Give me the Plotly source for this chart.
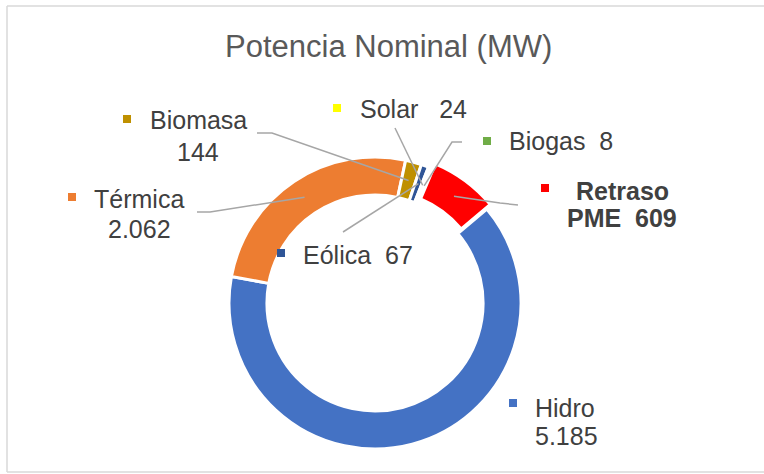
import math
import plotly.graph_objects as go

# ---- data ----
labels = ["Hidro", "Térmica", "Biomasa", "Eólica", "Solar", "Biogas", "Retraso PME"]
values = [5185, 2062, 144, 67, 24, 8, 609]
value_text = ["5.185", "2.062", "144", "67", "24", "8", "609"]
colors = ["#4472C4", "#ED7D31", "#BF9000", "#2F5597", "#FFFF00", "#70AD47", "#FF0000"]
pulls = [0, 0, 0, 0, 0, 0, 0.04]

W, H = 764, 474
ROT = 50          # start angle of first slice (deg, clockwise from 12 o'clock)
HOLE = 0.74
CX, CY, R = 375, 303, 146   # pixel layout of the ring

def px(x):
    return x / W

def py(y):
    return 1 - y / H

maxpull = max(pulls)
half = R * (1 + maxpull)

fig = go.Figure(go.Pie(
    labels=labels, values=values, sort=False, direction="clockwise",
    rotation=ROT, hole=HOLE, pull=pulls, textinfo="none",
    marker=dict(colors=colors, line=dict(color="white", width=3)),
    domain=dict(x=[px(CX - half), px(CX + half)], y=[py(CY + half), py(CY - half)]),
    showlegend=False, hoverinfo="label+value",
))

# slice mid angles from data
total = sum(values)
mid = {}
acc = 0
for lab, v in zip(labels, values):
    mid[lab] = ROT + (acc + v / 2) / total * 360
    acc += v

def slice_point(lab, rfrac):
    a = math.radians(mid[lab])
    p = pulls[labels.index(lab)] * R
    rr = R * rfrac + p
    return CX + rr * math.sin(a), CY - rr * math.cos(a)

rmid = (1 + HOLE) / 2

TXT = "#404040"
FS = 25
FONT = "Liberation Sans, Arial, sans-serif"
annotations = []
shapes = []

def text(x, y, s, bold=False, anchor="center"):
    annotations.append(dict(
        x=px(x), y=py(y), xref="paper", yref="paper", text=(f"<b>{s}</b>" if bold else s),
        showarrow=False, xanchor=anchor, yanchor="middle",
        font=dict(family=FONT, size=FS, color=TXT)))

def key(x, y, color):
    shapes.append(dict(type="rect", xref="paper", yref="paper",
                       x0=px(x - 4), x1=px(x + 4), y0=py(y + 4), y1=py(y - 4),
                       fillcolor=color, line=dict(width=0)))

def leader(pts, lab):
    ex, ey = slice_point(lab, rmid)
    allp = pts + [(ex, ey)]
    path = "M " + " L ".join(f"{px(a)},{py(b)}" for a, b in allp)
    shapes.append(dict(type="path", xref="paper", yref="paper", path=path,
                       line=dict(color="#A6A6A6", width=1.5)))

def frame_line(x0, y0, x1, y1):
    shapes.append(dict(type="line", xref="paper", yref="paper",
                       x0=px(x0), y0=py(y0), x1=px(x1), y1=py(y1),
                       line=dict(color="#D9D9D9", width=1.5)))

nb = "\u00a0"
c = dict(zip(labels, colors))

# Biomasa
key(127, 119, c["Biomasa"])
text(198, 120, "Biomasa")
text(198, 152, value_text[2])
leader([(257, 133), (272, 133)], "Biomasa")
# Térmica
key(72, 197, c["Térmica"])
text(139, 199, "Térmica")
text(139, 229, value_text[1])
leader([(197, 212), (210, 212)], "Térmica")
# Solar
key(337, 108, c["Solar"])
text(413, 109, "Solar" + nb * 3 + value_text[4])
leader([(395, 128)], "Solar")
# Biogas
key(487, 141, c["Biogas"])
text(561, 141, "Biogas" + nb * 2 + value_text[5])
leader([(462, 142), (452, 142)], "Biogas")
# Eólica
key(281, 253, c["Eólica"])
text(358, 255, "Eólica" + nb * 2 + value_text[3])
leader([(343, 232)], "Eólica")
# Retraso
key(545, 188, c["Retraso PME"])
text(622, 191, "Retraso", bold=True)
text(622, 218, "PME" + nb * 2 + value_text[6], bold=True)
leader([(518, 205), (500, 203)], "Retraso PME")
# Hidro
key(513, 403, c["Hidro"])
text(533, 408, "Hidro", anchor="left")
text(533, 436, value_text[0], anchor="left")

# outer frame (left, top, bottom)
frame_line(7, 6, 7, 472)
frame_line(7, 6, 764, 6)
frame_line(7, 472, 764, 472)

# title
annotations.append(dict(x=px(388), y=py(46), xref="paper", yref="paper",
                        text="Potencia Nominal (MW)", showarrow=False,
                        xanchor="center", yanchor="middle",
                        font=dict(family=FONT, size=31, color="#595959")))

fig.update_layout(width=W, height=H, margin=dict(l=0, r=0, t=0, b=0),
                  paper_bgcolor="white", plot_bgcolor="white",
                  annotations=annotations, shapes=shapes)

fig.write_html("out.html", config={"displayModeBar": False},
               post_script="document.body.style.margin='0';document.body.style.overflow='hidden';")
